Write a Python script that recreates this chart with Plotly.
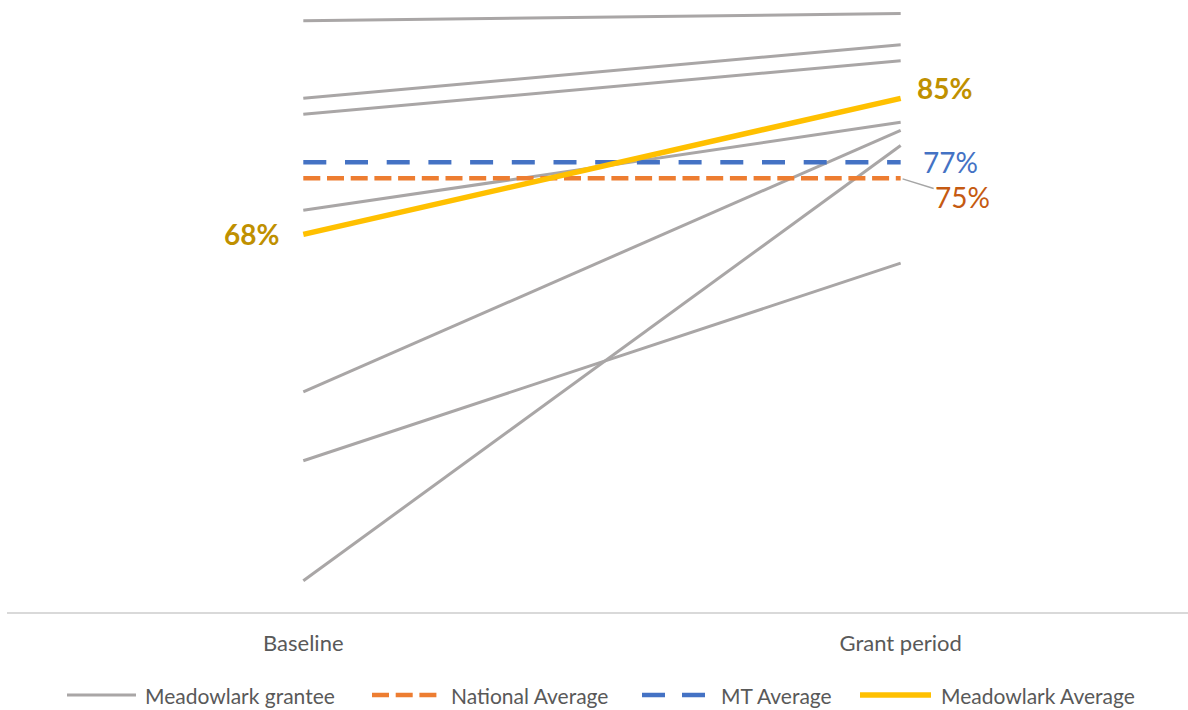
import plotly.graph_objects as go

# Categories on the x axis
periods = ["Baseline", "Grant period"]

# Individual grantee rates (%), baseline vs grant period
grantee_baseline = [94.7, 85.0, 83.0, 71.0, 48.3, 39.7, 24.7]
grantee_grant = [95.6, 91.7, 89.7, 82.0, 81.0, 64.4, 79.1]

# Reference averages (%)
national_avg = [75, 75]
mt_avg = [77, 77]
meadowlark_avg = [68, 85]

series_names = ["Meadowlark grantee", "National Average", "MT Average", "Meadowlark Average"]

GREY = "#A9A6A6"
ORANGE = "#ED7D31"
BLUE = "#4472C4"
YELLOW = "#FFC000"
GOLD_TEXT = "#BF9000"
ORANGE_TEXT = "#C55A11"
TEXT = "#595959"
FONT = "Lato"

NATIONAL_DASH = "17px,6.7px"
MT_DASH = "23px,18.7px"

fig = go.Figure()

for b, g in zip(grantee_baseline, grantee_grant):
    fig.add_trace(go.Scatter(
        x=periods, y=[b, g], mode="lines", name=series_names[0],
        line=dict(color=GREY, width=3), showlegend=False, hoverinfo="skip"))

fig.add_trace(go.Scatter(
    x=periods, y=national_avg, mode="lines", name=series_names[1],
    line=dict(color=ORANGE, width=4.5, dash=NATIONAL_DASH), showlegend=False))
fig.add_trace(go.Scatter(
    x=periods, y=mt_avg, mode="lines", name=series_names[2],
    line=dict(color=BLUE, width=4.5, dash=MT_DASH), showlegend=False))
fig.add_trace(go.Scatter(
    x=periods, y=meadowlark_avg, mode="lines", name=series_names[3],
    line=dict(color=YELLOW, width=5.5), showlegend=False))

# End-point value labels
annotations = [
    dict(x=periods[0], y=meadowlark_avg[0], text=f"<b>{meadowlark_avg[0]:.0f}%</b>",
         xanchor="right", yanchor="middle", xshift=-22, showarrow=False,
         font=dict(family=FONT, size=28, color=GOLD_TEXT)),
    dict(x=periods[1], y=meadowlark_avg[1], text=f"<b>{meadowlark_avg[1]:.0f}%</b>",
         xanchor="left", yanchor="middle", xshift=14, yshift=10, showarrow=False,
         font=dict(family=FONT, size=28, color=GOLD_TEXT)),
    dict(x=periods[1], y=mt_avg[1], text=f"{mt_avg[1]:.0f}%",
         xanchor="left", yanchor="middle", xshift=20, showarrow=False,
         font=dict(family=FONT, size=28, color=BLUE)),
    dict(x=periods[1], y=national_avg[1], text=f"{national_avg[1]:.0f}%",
         showarrow=True, arrowhead=0, arrowwidth=1.5, arrowcolor="#A6A6A6",
         ax=62, ay=19, standoff=2,
         font=dict(family=FONT, size=28, color=ORANGE_TEXT)),
]

# Legend row drawn beneath the axis (pixel offsets from the plot's left/bottom edges)
legend_items = [
    # name, color, width, dash, line start, line end, text start
    (series_names[0], GREY, 3, "solid", 60, 129, 136),
    (series_names[1], ORANGE, 4.5, NATIONAL_DASH, 365, 430, 442),
    (series_names[2], BLUE, 4.5, "23px,17px", 635, 699, 712),
    (series_names[3], YELLOW, 5.5, "solid", 853, 924, 932),
]
LEGEND_Y = -83
shapes = []
for name, color, width, dash, lx0, lx1, tx in legend_items:
    shapes.append(dict(
        type="line", xref="paper", yref="paper", xsizemode="pixel", ysizemode="pixel",
        xanchor=0, yanchor=0, x0=lx0, x1=lx1, y0=LEGEND_Y, y1=LEGEND_Y,
        line=dict(color=color, width=width, dash=dash)))
    annotations.append(dict(
        xref="paper", yref="paper", x=0, y=0, xshift=tx, yshift=LEGEND_Y,
        xanchor="left", yanchor="middle", text=name, showarrow=False,
        font=dict(family=FONT, size=21, color=TEXT)))

fig.update_layout(
    width=1188, height=710,
    margin=dict(l=7, r=0, t=0, b=98),
    paper_bgcolor="white", plot_bgcolor="white",
    showlegend=False,
    font=dict(family=FONT, color=TEXT),
    xaxis=dict(
        type="category", range=[-0.496, 1.481],
        showline=True, linecolor="#D9D9D9", linewidth=1.5,
        showgrid=False, zeroline=False, ticks="", ticklabelstandoff=11,
        tickfont=dict(family=FONT, size=22, color=TEXT)),
    yaxis=dict(range=[20.79, 97.29], visible=False, showgrid=False, zeroline=False),
    annotations=annotations,
    shapes=shapes,
)

fig.write_html("out.html")
